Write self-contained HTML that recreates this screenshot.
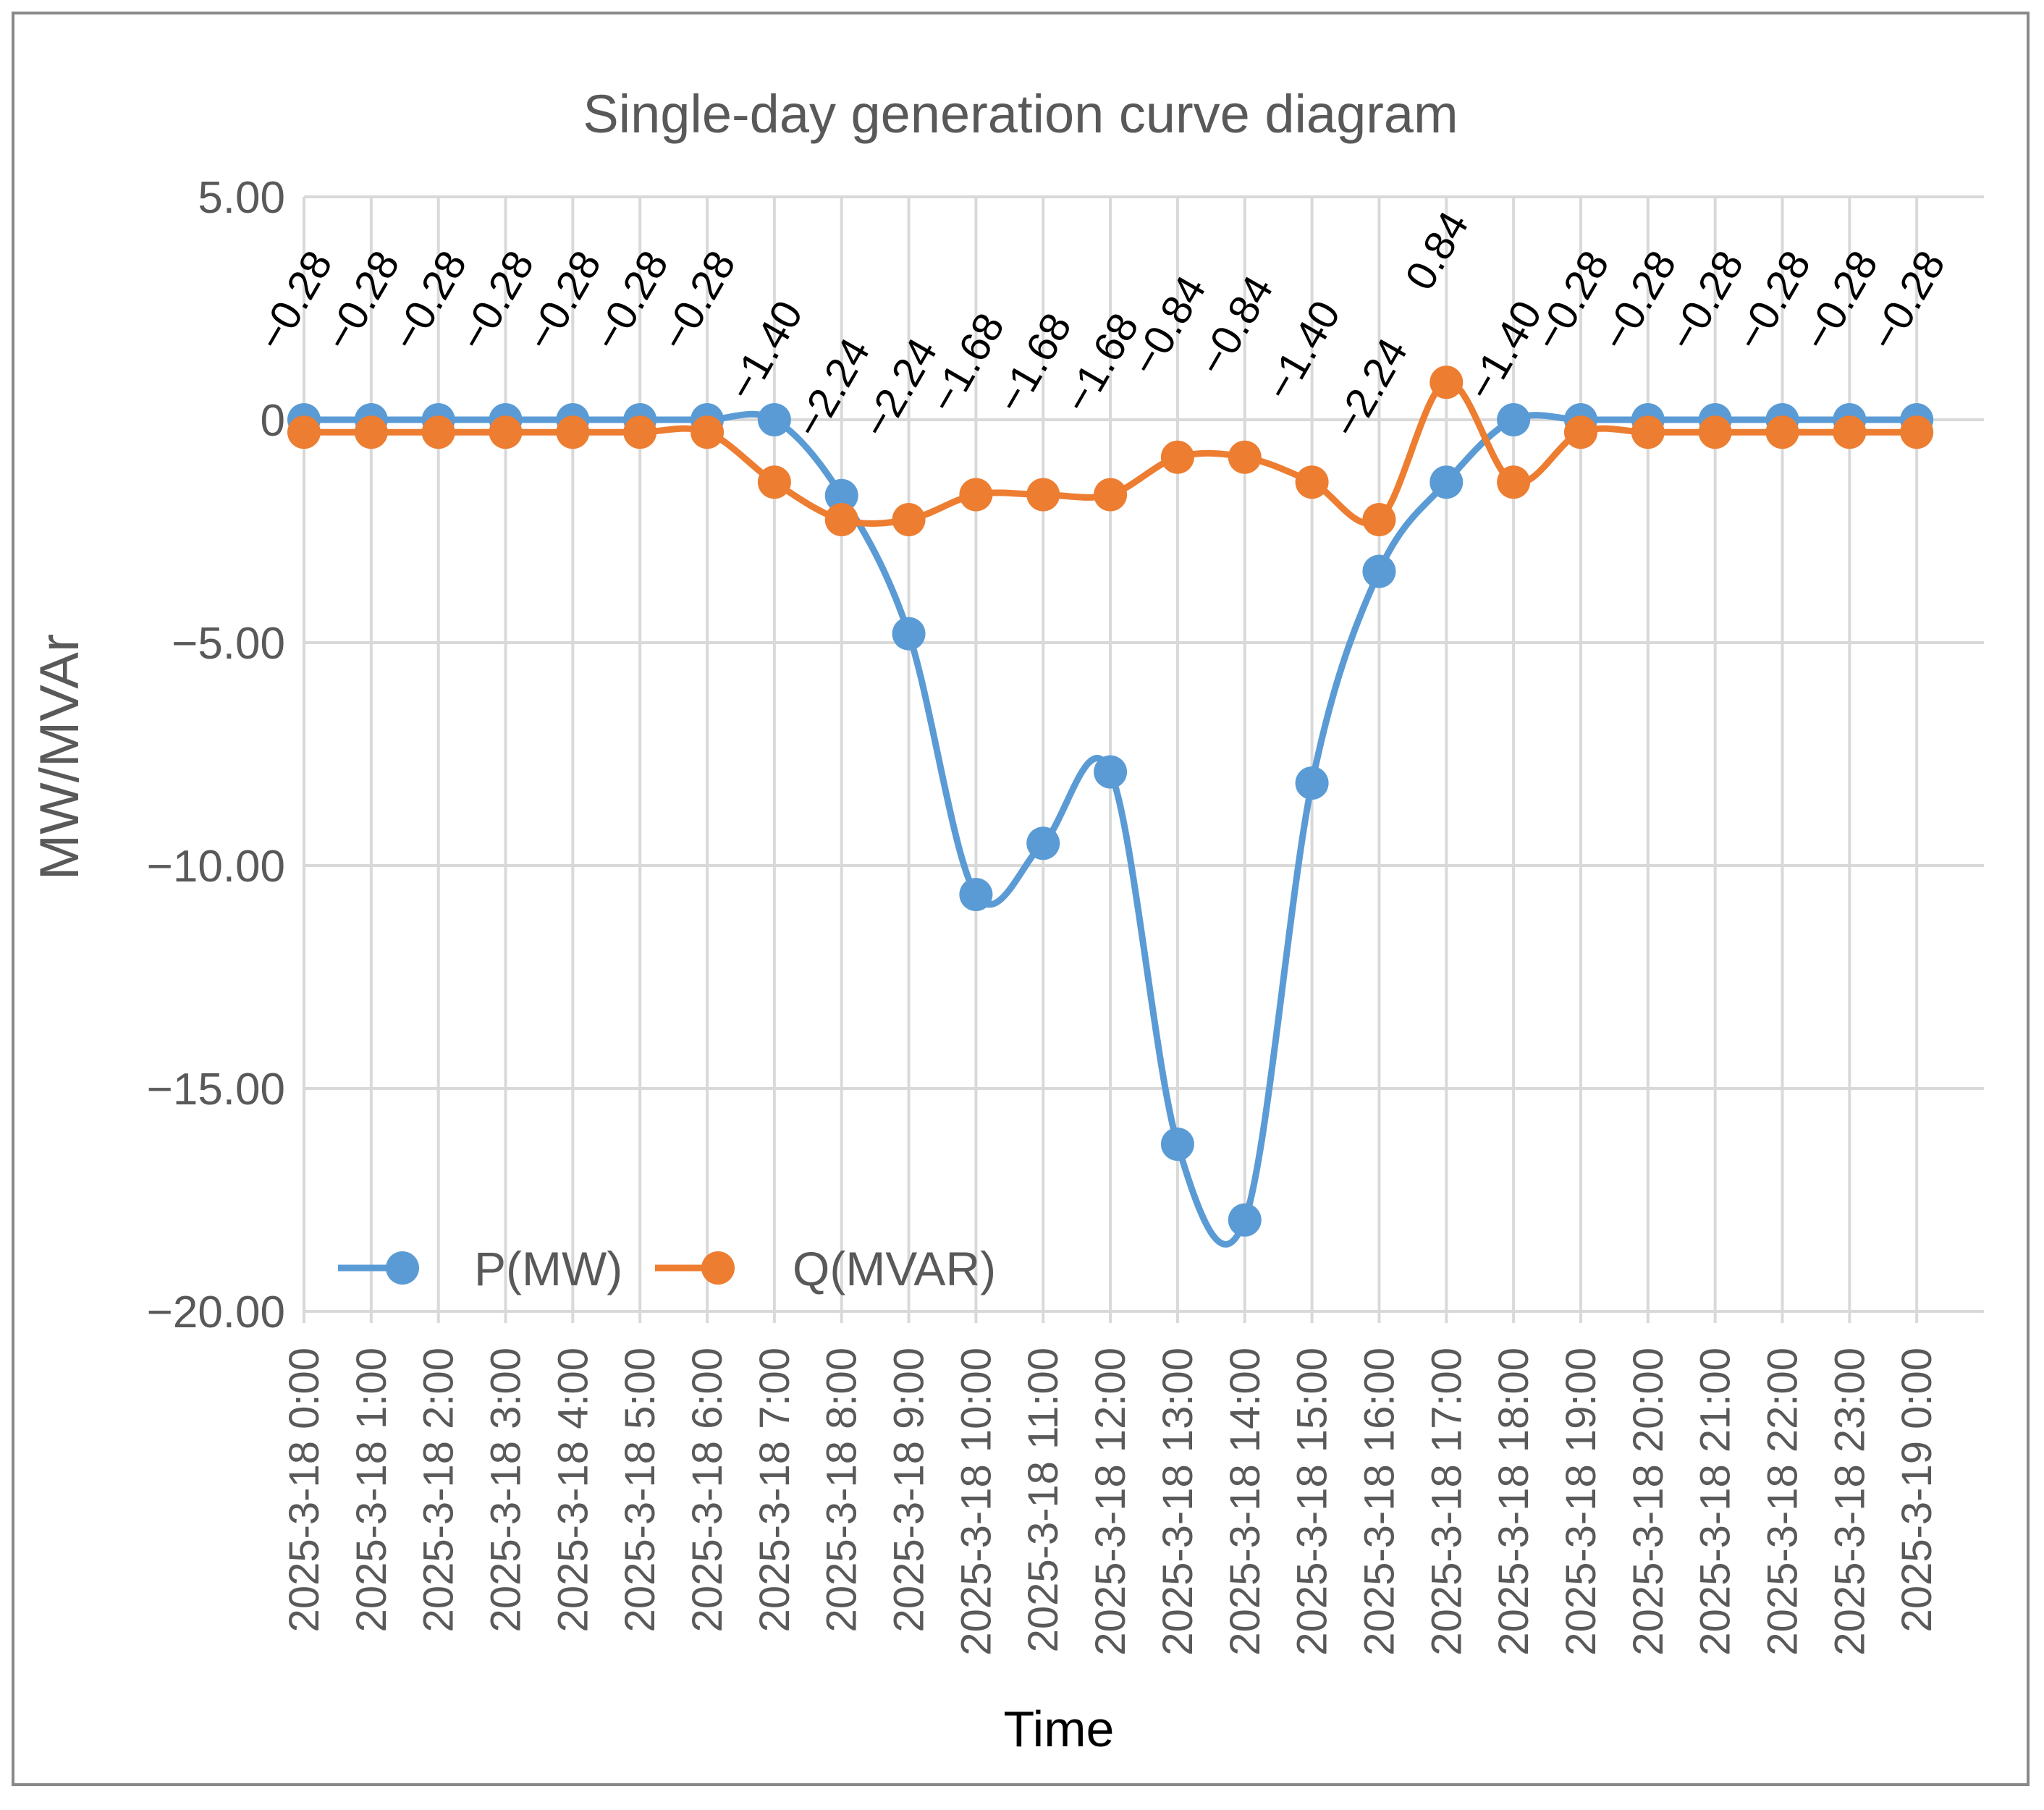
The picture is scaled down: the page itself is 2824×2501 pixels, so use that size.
<!DOCTYPE html>
<html><head><meta charset="utf-8"><style>
html,body{margin:0;padding:0;background:#fff}
svg{display:block}
text{font-family:"Liberation Sans",sans-serif}
</style></head><body>
<svg id="chart" width="2824" height="2501" viewBox="0 0 2824 2501">
<rect x="18" y="18" width="2784" height="2448" fill="#fff" stroke="#898989" stroke-width="4"/>
<text x="1410" y="183" text-anchor="middle" font-size="74" fill="#595959">Single-day generation curve diagram</text>
<text transform="translate(108,1046) rotate(-90)" text-anchor="middle" font-size="76" fill="#595959">MW/MVAr</text>
<text x="1463" y="2413" text-anchor="middle" font-size="70" fill="#000">Time</text>
<g id="grid"></g><g id="series"></g><g id="labels"></g>
<g>
<line x1="467" y1="1752" x2="576" y2="1752" stroke="#5b9bd5" stroke-width="9"/>
<circle cx="556" cy="1752" r="23" fill="#5b9bd5"/>
<text x="655" y="1776" font-size="66" fill="#595959">P(MW)</text>
<line x1="905" y1="1752" x2="1014" y2="1752" stroke="#ed7d31" stroke-width="9"/>
<circle cx="992" cy="1752" r="23" fill="#ed7d31"/>
<text x="1095" y="1776" font-size="66" fill="#595959">Q(MVAR)</text>
</g>
</svg>
<script>
const categories=["2025-3-18 0:00","2025-3-18 1:00","2025-3-18 2:00","2025-3-18 3:00","2025-3-18 4:00","2025-3-18 5:00","2025-3-18 6:00","2025-3-18 7:00","2025-3-18 8:00","2025-3-18 9:00","2025-3-18 10:00","2025-3-18 11:00","2025-3-18 12:00","2025-3-18 13:00","2025-3-18 14:00","2025-3-18 15:00","2025-3-18 16:00","2025-3-18 17:00","2025-3-18 18:00","2025-3-18 19:00","2025-3-18 20:00","2025-3-18 21:00","2025-3-18 22:00","2025-3-18 23:00","2025-3-19 0:00"];
const pValues=[0,0,0,0,0,0,0,0,-1.7,-4.8,-10.65,-9.5,-7.9,-16.25,-17.95,-8.15,-3.4,-1.4,0,0,0,0,0,0,0];
const qValues=[-0.28,-0.28,-0.28,-0.28,-0.28,-0.28,-0.28,-1.40,-2.24,-2.24,-1.68,-1.68,-1.68,-0.84,-0.84,-1.40,-2.24,0.84,-1.40,-0.28,-0.28,-0.28,-0.28,-0.28,-0.28];
const yTicks=[5,0,-5,-10,-15,-20];
const yTickLabels=["5.00","0","\u22125.00","\u221210.00","\u221215.00","\u221220.00"];

const L=420,R=2741,T=272,B=1812,ymin=-20,ymax=5;
const step=(R-L)/(categories.length);
const xs=i=>L+i*step;
const ys=v=>T+(ymax-v)/(ymax-ymin)*(B-T);
const NS="http://www.w3.org/2000/svg";
function mk(tag,attrs,parent){const e=document.createElementNS(NS,tag);for(const k in attrs)e.setAttribute(k,attrs[k]);parent.appendChild(e);return e;}
const grid=document.getElementById('grid'),series=document.getElementById('series'),labels=document.getElementById('labels');

yTicks.forEach((v,i)=>{
  const ln=mk('line',{x1:L,x2:R,y1:ys(v),y2:ys(v),stroke:'#d9d9d9','stroke-width':4},grid);
  
  
  const t=mk('text',{x:L-26,y:ys(v)+22,'text-anchor':'end','font-size':62,fill:'#595959'},grid);
  t.textContent=yTickLabels[i];
  
  
});
categories.forEach((c,i)=>{
  const x=xs(i);
  const ln=mk('line',{x1:x,x2:x,y1:T,y2:B+16,stroke:'#d9d9d9','stroke-width':4},grid);
  
  
  const t=mk('text',{transform:`translate(${x+20},1862) rotate(-90)`,'text-anchor':'end','font-size':58,fill:'#595959'},grid);
  t.textContent=c;
  
  
});

function smooth(vals){
  const p=vals.map((v,i)=>[xs(i),ys(v)]);
  let d=`M${p[0][0]},${p[0][1]}`;
  for(let i=0;i<p.length-1;i++){
    const p0=p[Math.max(0,i-1)],p1=p[i],p2=p[i+1],p3=p[Math.min(p.length-1,i+2)];
    const c1=[p1[0]+(p2[0]-p0[0])/6,p1[1]+(p2[1]-p0[1])/6];
    const c2=[p2[0]-(p3[0]-p1[0])/6,p2[1]-(p3[1]-p1[1])/6];
    d+=` C${c1[0]},${c1[1]} ${c2[0]},${c2[1]} ${p2[0]},${p2[1]}`;
  }
  return d;
}
function drawSeries(vals,color,name){
  const path=mk('path',{d:smooth(vals),fill:'none',stroke:color,'stroke-width':9,'stroke-linejoin':'round'},series);
  
  
  vals.forEach((v,i)=>{
    const c=mk('circle',{cx:xs(i),cy:ys(v),r:23,fill:color},series);
    
    
  });
}
drawSeries(pValues,'#5b9bd5','p-series');
drawSeries(qValues,'#ed7d31','q-series');

qValues.forEach((v,i)=>{
  const x=xs(i)+4,y=ys(v)-172;
  const t=mk('text',{transform:`translate(${x},${y}) rotate(-60)`,'text-anchor':'middle','font-size':58,fill:'#000'},labels);
  t.textContent=(v<0?'\u2212':'')+Math.abs(v).toFixed(2);
  
  
});
</script>
</body></html>
